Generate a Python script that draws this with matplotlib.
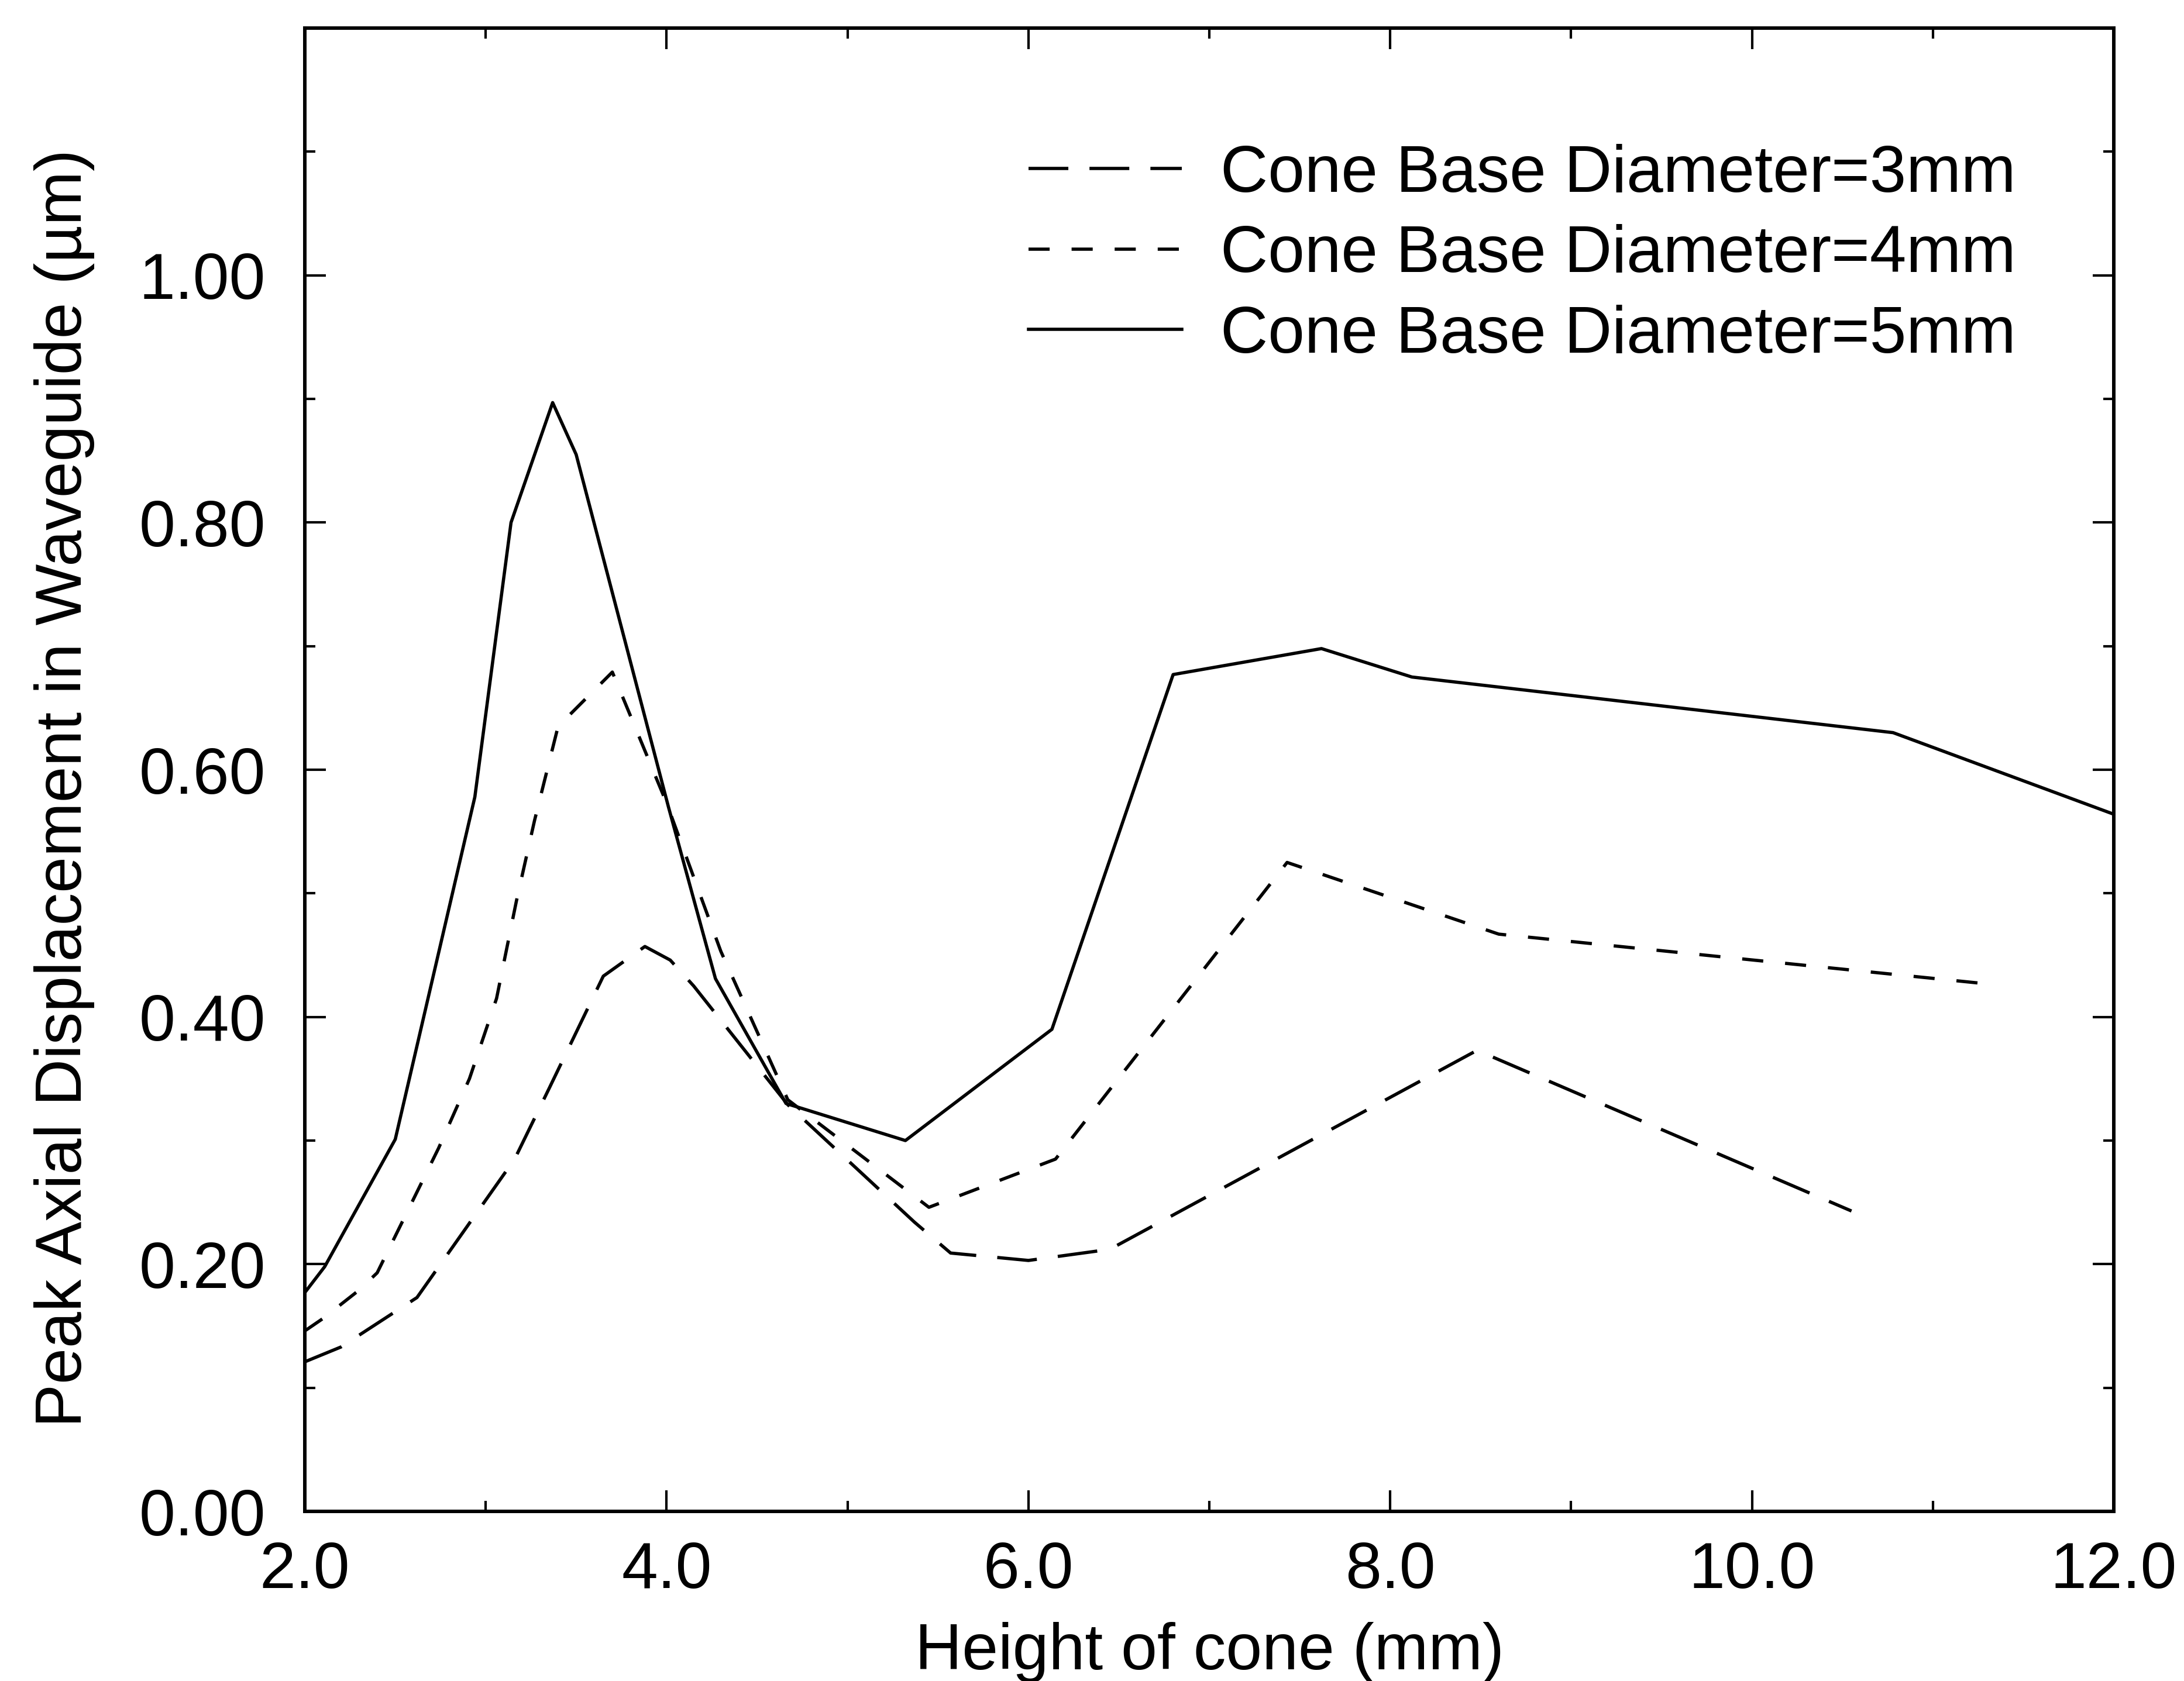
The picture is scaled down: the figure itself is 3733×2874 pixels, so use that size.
import matplotlib
matplotlib.use("Agg")
import matplotlib.pyplot as plt
from matplotlib.ticker import MultipleLocator, FixedLocator

# ---- data: peak axial displacement vs cone height -----------------------
height_3mm = [2.0, 2.2, 2.62, 3.16, 3.35, 3.65, 3.88, 4.02, 4.15, 4.67, 5.37,
              5.57, 6.0, 6.45, 8.48, 10.55]
disp_3mm = [0.121, 0.133, 0.173, 0.285, 0.342, 0.433, 0.457, 0.446, 0.425,
            0.329, 0.234, 0.209, 0.203, 0.212, 0.373, 0.243]

height_4mm = [2.0, 2.1, 2.3, 2.4, 2.74, 2.91, 3.06, 3.17, 3.27, 3.4, 3.7, 4.0,
              4.3, 4.67, 5.45, 6.15, 7.43, 8.6, 11.35]
disp_4mm = [0.146, 0.156, 0.179, 0.193, 0.294, 0.35, 0.415, 0.494, 0.559,
            0.635, 0.679, 0.573, 0.453, 0.333, 0.246, 0.285, 0.525, 0.467,
            0.426]

height_5mm = [2.0, 2.11, 2.5, 2.94, 3.14, 3.37, 3.5, 4.01, 4.27, 4.66, 5.32,
              6.13, 6.8, 7.62, 8.12, 10.78, 12.0]
disp_5mm = [0.177, 0.198, 0.301, 0.578, 0.8, 0.897, 0.855, 0.57, 0.431, 0.33,
            0.3, 0.39, 0.677, 0.698, 0.675, 0.63, 0.564]

labels = ["Cone Base Diameter=3mm", "Cone Base Diameter=4mm",
          "Cone Base Diameter=5mm"]

x_ticks = [2.0, 4.0, 6.0, 8.0, 10.0, 12.0]
x_ticklabels = ["2.0", "4.0", "6.0", "8.0", "10.0", "12.0"]
y_ticks = [0.0, 0.2, 0.4, 0.6, 0.8, 1.0]
y_ticklabels = ["0.00", "0.20", "0.40", "0.60", "0.80", "1.00"]

# ---- style ---------------------------------------------------------------
plt.rcParams["font.family"] = ["Liberation Sans", "DejaVu Sans"]
plt.rcParams["lines.scale_dashes"] = False

fig = plt.figure(figsize=(37.33, 28.74), dpi=100)
ax = fig.add_axes([521 / 3733, 1 - 2584 / 2874, 3092 / 3733, 2536 / 2874])

lw = 4.0
ax.plot(height_3mm, disp_3mm, color="black", lw=lw, dashes=(49, 26),
        label=labels[0])
ax.plot(height_4mm, disp_4mm, color="black", lw=lw, dashes=(26, 27),
        label=labels[1])
ax.plot(height_5mm, disp_5mm, color="black", lw=lw, linestyle="-",
        label=labels[2])

ax.set_xlim(2.0, 12.0)
ax.set_ylim(0.0, 1.2)

ax.xaxis.set_major_locator(FixedLocator(x_ticks))
ax.set_xticklabels(x_ticklabels)
ax.xaxis.set_minor_locator(MultipleLocator(1.0))
ax.yaxis.set_major_locator(FixedLocator(y_ticks))
ax.set_yticklabels(y_ticklabels)
ax.yaxis.set_minor_locator(MultipleLocator(0.1))

ax.tick_params(which="both", direction="in", top=True, right=True,
               width=3, color="black")
ax.tick_params(which="major", length=26, labelsize=80)
ax.tick_params(which="minor", length=13)
ax.tick_params(axis="y", which="major", pad=48)
ax.tick_params(axis="x", which="major", pad=36)

for sp in ax.spines.values():
    sp.set_linewidth(4.3)
    sp.set_color("black")

ax.set_xlabel("Height of cone (mm)", fontsize=80)
ax.set_ylabel("Peak Axial Displacement in Waveguide (\u00b5m)", fontsize=80)
ax.xaxis.set_label_coords(0.5, -0.0745)
ax.yaxis.set_label_coords(-0.116, 0.4874)

leg = ax.legend(loc="upper left", bbox_to_anchor=(0.400, 0.922),
                frameon=False, fontsize=81, handlelength=2.33,
                handletextpad=0.59, labelspacing=0.28, borderpad=0,
                borderaxespad=0)

fig.savefig("out.png", dpi=100, facecolor="white")
